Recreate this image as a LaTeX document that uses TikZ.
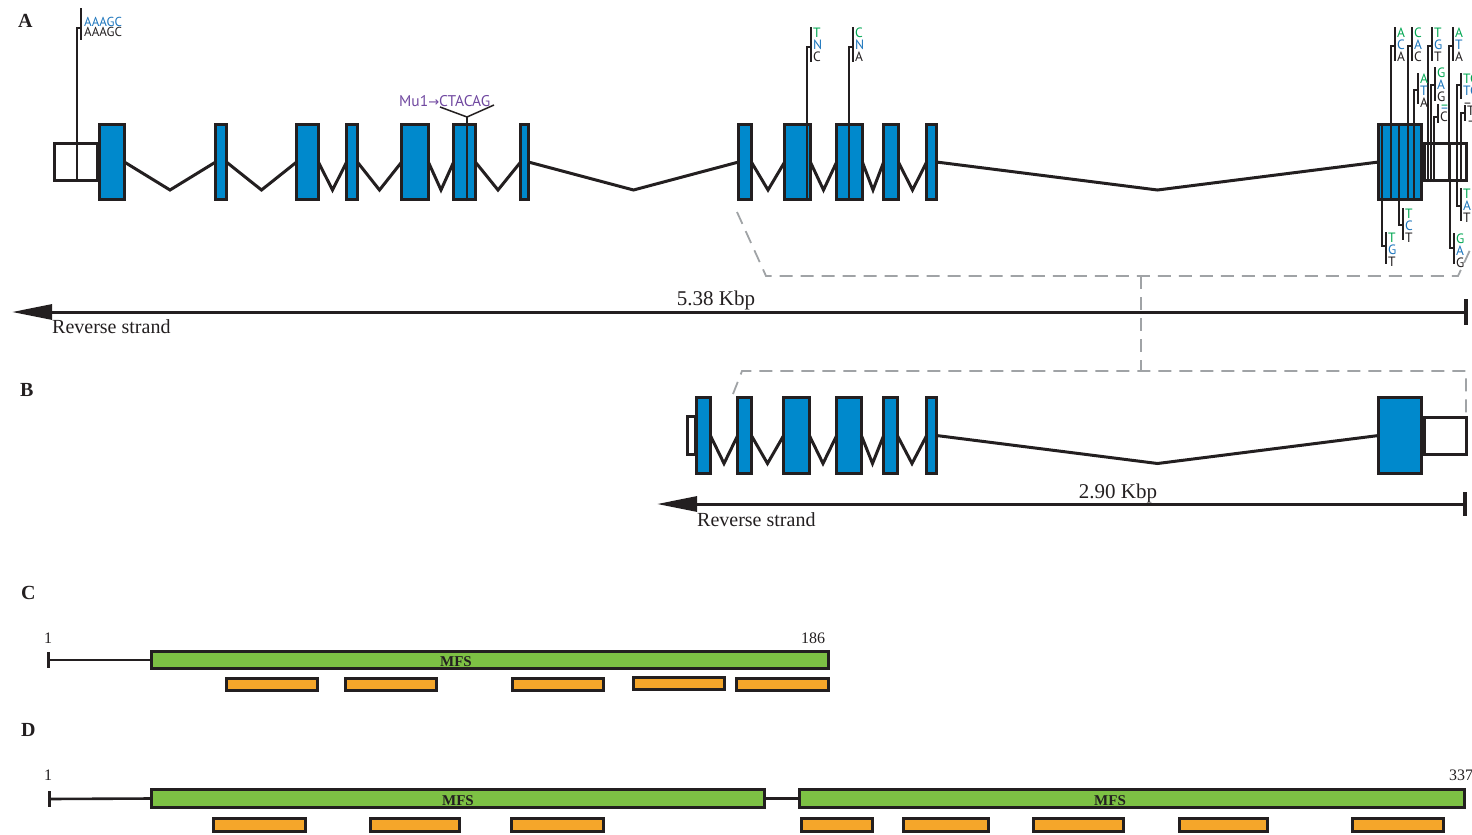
\documentclass[tikz,border=0pt]{standalone}
\usepackage{fontspec}
\setmainfont{Liberation Serif}
\newfontfamily\snpfont{PT Sans}
\newfontfamily\arrfont{DejaVu Sans}
\usetikzlibrary{arrows.meta,calc}
\definecolor{exblue}{RGB}{0,137,204}
\definecolor{ink}{RGB}{35,31,32}
\definecolor{mfsgreen}{RGB}{125,193,68}
\definecolor{dorange}{RGB}{245,166,42}
\definecolor{zoomgrey}{RGB}{160,163,166}
\definecolor{snpg}{RGB}{0,166,81}
\definecolor{snpb}{RGB}{28,117,188}
\definecolor{mupurple}{RGB}{112,72,160}
\tikzset{
  exon/.style={draw=ink, fill=exblue, line width=3.6pt, inner sep=0pt, outer sep=0pt},
  utr/.style={draw=ink, fill=white, line width=3.6pt, inner sep=0pt, outer sep=0pt},
  mfsbox/.style={draw=ink, fill=mfsgreen, line width=3pt, inner sep=0pt, outer sep=0pt},
  orbox/.style={draw=ink, fill=dorange, line width=3pt, inner sep=0pt, outer sep=0pt},
  intron/.style={draw=ink, line width=3pt},
  snpline/.style={draw=ink, line width=1.5pt},
  snptxt/.style={font=\snpfont\fontsize{13.5}{12}\selectfont, inner sep=0pt, anchor=north west, align=left},
  zoomline/.style={draw=zoomgrey, line width=1.8pt, dash pattern=on 13pt off 8pt},
  axisline/.style={draw=ink, line width=3pt},
  axisbar/.style={draw=ink, line width=3.6pt},
  panel/.style={font=\fontsize{20}{20}\selectfont\bfseries, anchor=north west, inner sep=0pt},
  kbp/.style={font=\fontsize{21}{21}\selectfont, anchor=base, inner sep=0pt},
  strand/.style={font=\fontsize{20}{20}\selectfont, anchor=base west, inner sep=0pt},
  numlbl/.style={font=\fontsize{16}{16}\selectfont, anchor=base, inner sep=0pt},
  mfslbl/.style={font=\fontsize{15}{15}\selectfont\bfseries, anchor=base, inner sep=0pt},
}
% style, name, x1, x2, y1, y2 (outer edges)
\newcommand{\gbox}[6]{%
  \pgfmathsetmacro\gbW{#4-#3-3.3}%
  \pgfmathsetmacro\gbH{#6-#5-3.3}%
  \node[#1,minimum width=\gbW pt,minimum height=\gbH pt] (#2) at ({(#3+#4)/2},{(#5+#6)/2}) {};}
% intron between two exons
\newcommand{\intron}[2]{\draw[intron] (#1.east) -- ($(#1.east)!.5!(#2.west)+(0,28)$) -- (#2.west);}
% snp: name, xline, ybase, yjog, tick-top, tick-bottom, text
\newcommand{\snp}[7]{%
  \coordinate (#1-b) at (#2,#3);
  \coordinate (#1-j) at (#2,#4);
  \coordinate (#1-t) at ({#2+4},#5);
  \coordinate (#1-u) at ({#2+4},#6);
  \draw[snpline] (#1-b) -- (#1-j) -- (#1-j -| #1-t);
  \draw[snpline] (#1-t) -- (#1-u);
  \node[snptxt] (#1-txt) at ({#2+6},{#5+0.5}) {#7};}
\newcommand{\gnk}[3]{\textcolor{snpg}{#1}\\\textcolor{snpb}{#2}\\#3}
\begin{document}
\begin{tikzpicture}[x=1pt,y=-1pt,color=ink]
\useasboundingbox (0,0) rectangle (1472,835);

% ---------------- zoom guide lines ----------------
\coordinate (zA1) at (737,212);
\coordinate (zA2) at (766,276);
\coordinate (zA3) at (1458,276);
\coordinate (zA4) at (1470,250);
\draw[zoomline] (zA1) -- (zA2) -- (zA3) -- (zA4);
\coordinate (zV1) at (1141,276);
\coordinate (zV2) at (1141,371);
\draw[zoomline] (zV1) -- (zV2);
\coordinate (zB1) at (733,394);
\coordinate (zB2) at (742,371);
\coordinate (zB3) at (1466,371);
\coordinate (zB4) at (1466,413);
\draw[zoomline] (zB1) -- (zB2) -- (zB3) -- (zB4);

% ---------------- panel labels ----------------
\node[panel] (lA) at (18,14) {A};
\node[panel] (lB) at (20,383) {B};
\node[panel] (lC) at (21,586) {C};
\node[panel] (lD) at (21,723) {D};

% ---------------- panel A gene ----------------
\gbox{utr}{a1}{53}{99}{142}{182}
\gbox{utr}{a15}{1423}{1468}{142}{182}
\gbox{exon}{a2}{98}{126}{123}{201}
\gbox{exon}{a3}{214}{228}{123}{201}
\gbox{exon}{a4}{295}{320}{123}{201}
\gbox{exon}{a5}{345}{359}{123}{201}
\gbox{exon}{a6}{400}{430}{123}{201}
\gbox{exon}{a7}{452}{477}{123}{201}
\gbox{exon}{a8}{519}{530}{123}{201}
\gbox{exon}{a9}{737}{753}{123}{201}
\gbox{exon}{a10}{783}{812}{123}{201}
\gbox{exon}{a11}{835}{864}{123}{201}
\gbox{exon}{a12}{882}{900}{123}{201}
\gbox{exon}{a13}{925}{938}{123}{201}
\gbox{exon}{a14}{1377}{1423}{123}{201}
\intron{a2}{a3}\intron{a3}{a4}\intron{a4}{a5}\intron{a5}{a6}
\intron{a6}{a7}\intron{a7}{a8}\intron{a8}{a9}\intron{a9}{a10}
\intron{a10}{a11}\intron{a11}{a12}\intron{a12}{a13}\intron{a13}{a14}

% AAAGC variant
\coordinate (v0-b) at (77,181);
\coordinate (v0-j) at (77,28);
\coordinate (v0-t) at (81,8);
\coordinate (v0-u) at (81,40);
\draw[snpline] (v0-b) -- (v0-j) -- (v0-j -| v0-t);
\draw[snpline] (v0-t) -- (v0-u);
\node[font=\snpfont\fontsize{13}{10.5}\selectfont, inner sep=0pt, anchor=north west, align=left] (v0-txt) at (84,17) {\textcolor{snpb}{AAAGC}\\AAAGC};

% Mu1 insertion
\coordinate (mu-b) at (467,201);
\coordinate (mu-v) at (467,117);
\coordinate (mu-l) at (440,107);
\coordinate (mu-r) at (494,105);
\draw[snpline] (mu-b) -- (mu-v);
\draw[snpline] (mu-l) -- (mu-v) -- (mu-r);
\node[font=\snpfont\fontsize{15.5}{15.5}\selectfont, text=mupurple, anchor=base west, inner sep=0pt] (mu-txt) at (399,106.5) {Mu1{\arrfont\fontsize{13}{13}\selectfont →}CTACAG};

% variants in exons 10, 11
\draw[snpline] (807,123) -- (807,201);
\snp{v1}{807}{123}{47}{27}{62}{\gnk{T}{N}{C}}
\draw[snpline] (849,123) -- (849,201);
\snp{v2}{849}{123}{47}{27}{62}{\gnk{C}{N}{A}}

% right-hand cluster, above
\draw[snpline] (1391,123) -- (1391,201);
\snp{g1}{1391}{123}{46}{27}{61}{\gnk{A}{C}{A}}
\draw[snpline] (1408,123) -- (1408,201);
\snp{g2}{1408}{123}{46}{27}{61}{\gnk{C}{A}{C}}
\snp{g3}{1428}{182}{46}{27}{61}{\gnk{T}{G}{T}}
\snp{g4}{1449}{182}{46}{27}{61}{\gnk{A}{T}{A}}
\draw[snpline] (1414,123) -- (1414,201);
\snp{g5}{1414}{123}{90}{73}{104}{\gnk{A}{T}{A}}
\snp{g6}{1431}{182}{85}{67}{101}{\gnk{G}{A}{G}}
\snp{g7}{1434}{182}{117}{104}{123}{\textcolor{snpg}{–}\\[-9pt]\textcolor{snpb}{–}\\[-3pt]C}
\snp{g8}{1457}{182}{85}{73}{99}{\gnk{TC}{TC}{–}}
\snp{g9}{1461}{182}{113}{105}{121}{T\\[-2pt]–}
% right-hand cluster, below
\draw[snpline] (1382,123) -- (1382,201);
\snp{g10}{1382}{201}{246}{232}{264}{\gnk{T}{G}{T}}
\draw[snpline] (1399,123) -- (1399,201);
\snp{g11}{1399}{201}{225}{208}{240}{\gnk{T}{C}{T}}
\snp{g12}{1457}{142}{206}{188}{221}{\gnk{T}{A}{T}}
\snp{g13}{1450}{142}{248}{233}{264}{\gnk{G}{A}{G}}

% axis A
\coordinate (axAl) at (12,312);
\coordinate (axAr) at (1466,312);
\draw[axisline,-{Triangle[length=40pt,width=15pt]}] (axAr) -- (axAl);
\draw[axisbar] ($(axAr)+(0,-13)$) -- ($(axAr)+(0,13)$);
\node[kbp] (kA) at (716,305) {5.38 Kbp};
\node[strand] (sA) at (52,333) {Reverse strand};

% ---------------- panel B gene ----------------
\gbox{utr}{b0}{686}{697}{415}{456}
\gbox{utr}{b8}{1423}{1468}{416}{456}
\gbox{exon}{b1}{695}{712}{396}{475}
\gbox{exon}{b2}{736}{753}{396}{475}
\gbox{exon}{b3}{782}{811}{396}{475}
\gbox{exon}{b4}{835}{863}{396}{475}
\gbox{exon}{b5}{882}{899}{396}{475}
\gbox{exon}{b6}{925}{938}{396}{475}
\gbox{exon}{b7}{1377}{1423}{396}{475}
\intron{b1}{b2}\intron{b2}{b3}\intron{b3}{b4}\intron{b4}{b5}\intron{b5}{b6}\intron{b6}{b7}

\coordinate (axBl) at (657,504);
\coordinate (axBr) at (1465,504);
\draw[axisline,-{Triangle[length=40pt,width=15pt]}] (axBr) -- (axBl);
\draw[axisbar] ($(axBr)+(0,-12)$) -- ($(axBr)+(0,12)$);
\node[kbp] (kB) at (1118,498) {2.90 Kbp};
\node[strand] (sB) at (697,526) {Reverse strand};

% ---------------- panel C protein ----------------
\coordinate (cS) at (48,660);
\draw[axisbar,line width=3pt] ($(cS)+(0,-8)$) -- ($(cS)+(0,8)$);
\gbox{mfsbox}{c1}{150}{830}{650}{670}
\draw[axisline,line width=2.6pt] (cS) -- (c1.west);
\node[numlbl] (c1n) at (48,643) {1};
\node[numlbl] (c186) at (813,643) {186};
\node[mfslbl] (cm) at (456,666) {MFS};
\gbox{orbox}{co1}{225}{319}{677}{692}
\gbox{orbox}{co2}{344}{438}{677}{692}
\gbox{orbox}{co3}{511}{605}{677}{692}
\gbox{orbox}{co4}{632}{726}{676}{691}
\gbox{orbox}{co5}{735}{830}{677}{692}

% ---------------- panel D protein ----------------
\coordinate (dS) at (49,799);
\draw[axisbar,line width=3pt] ($(dS)+(0,-8)$) -- ($(dS)+(0,8)$);
\gbox{mfsbox}{d1}{150}{766}{788}{809}
\gbox{mfsbox}{d2}{798}{1466}{788}{809}
\draw[axisline,line width=2.6pt] (dS) -- (d1.west);
\draw[axisline,line width=2.6pt] (d1.east) -- (d2.west);
\node[numlbl] (d1n) at (48,780) {1};
\node[numlbl,anchor=base west] (d337) at (1449,780) {337};
\node[mfslbl] (dm1) at (458,805) {MFS};
\node[mfslbl] (dm2) at (1110,805) {MFS};
\gbox{orbox}{do1}{212}{307}{817}{833}
\gbox{orbox}{do2}{369}{461}{817}{833}
\gbox{orbox}{do3}{510}{605}{817}{833}
\gbox{orbox}{do4}{800}{874}{817}{833}
\gbox{orbox}{do5}{902}{990}{817}{833}
\gbox{orbox}{do6}{1032}{1125}{817}{833}
\gbox{orbox}{do7}{1178}{1269}{817}{833}
\gbox{orbox}{do8}{1351}{1445}{817}{833}
\end{tikzpicture}
\end{document}
